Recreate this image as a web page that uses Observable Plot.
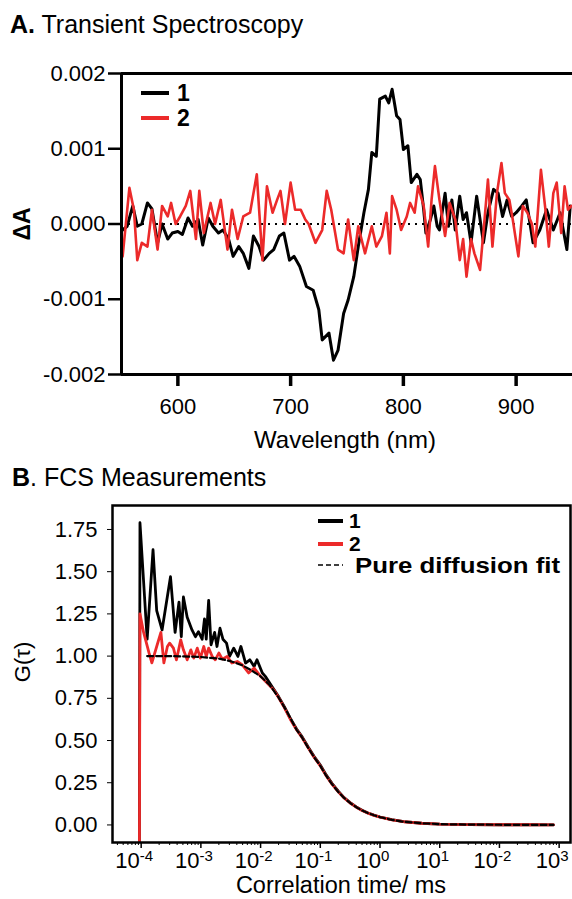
<!DOCTYPE html>
<html><head><meta charset="utf-8">
<script src="https://cdn.jsdelivr.net/npm/d3@7"></script>
<script src="https://cdn.jsdelivr.net/npm/@observablehq/plot@0.6"></script>
<style>
body{margin:0;background:#fff;}
#wrap{position:relative;width:572px;height:899px;overflow:hidden;font-family:"Liberation Sans",Arial,sans-serif;}
#pa{position:absolute;left:0;top:0;}
#pb{position:absolute;left:0;top:450px;}
#ov{position:absolute;left:0;top:0;pointer-events:none;}
</style></head>
<body><div id="wrap"><div id="pa"></div><div id="pb"></div>
<svg id="ov" width="572" height="899" font-family="Liberation Sans, Arial, sans-serif">
  <text x="10" y="33" font-size="25"><tspan font-weight="bold">A.</tspan> Transient Spectroscopy</text>
  <text x="12" y="486" font-size="25"><tspan font-weight="bold">B</tspan>. FCS Measurements</text>
  <text transform="translate(30,224) rotate(-90)" text-anchor="middle" font-size="23" font-weight="bold">ΔA</text>
  <text x="345" y="448" text-anchor="middle" font-size="24">Wavelength (nm)</text>
  <text transform="translate(30,662) rotate(-90)" text-anchor="middle" font-size="22">G(τ)</text>
  <text x="341" y="893" text-anchor="middle" font-size="23.5">Correlation time/ ms</text>
  <line x1="141" x2="169" y1="93" y2="93" stroke="#000" stroke-width="4"/>
  <text x="177" y="101" font-size="23" font-weight="bold">1</text>
  <line x1="141" x2="169" y1="118" y2="118" stroke="#ec2a2a" stroke-width="4"/>
  <text x="177" y="126" font-size="23" font-weight="bold">2</text>
  <line x1="318" x2="343" y1="521" y2="521" stroke="#000" stroke-width="4"/>
  <text x="349" y="528" font-size="21" font-weight="bold">1</text>
  <line x1="318" x2="343" y1="544" y2="544" stroke="#ec2a2a" stroke-width="4"/>
  <text x="349" y="551" font-size="21" font-weight="bold">2</text>
  <line x1="318" x2="343" y1="565" y2="565" stroke="#000" stroke-width="1.5" stroke-dasharray="5,3"/>
  <text x="355" y="573" font-size="21.5" font-weight="bold" textLength="205" lengthAdjust="spacingAndGlyphs">Pure diffusion fit</text>
</svg>
</div>
<script>
// ---------- Panel A: transient spectroscopy ----------
const wl1 = [551,555,560,564,568,573,577,582,586,591,595,600,604,609,613,618,622,627,631,636,640,645,649,654,658,663,667,672,676,681,685,690,694,699,703,708,714,720,725,728,734,738,742,747,751,756,760,765,769,772,776,779,784,787,790,794,797,800,804,807,812,815,818,820,824,827,830,832,837,840,843,846,850,853,856,860,865,871,875,880,884,888,892,896,900,905,909,915,921,927,933,939,945,948];
const dA1 = [-0.00008,-0.00003,0.00024,-0.00003,0,0.00028,0.0002,-0.00025,0,-0.0002,-0.00012,-0.0001,-0.00014,0.00008,-0.00003,0.00006,-0.00028,0.00008,-0.00003,-0.00012,-0.00008,-0.0002,-0.00043,-0.0003,-0.00039,-0.00059,-0.00016,-0.0003,-0.00048,-0.00039,-0.00034,-0.00016,-0.00012,-0.00048,-0.00043,-0.00056,-0.00083,-0.00088,-0.00114,-0.00154,-0.00145,-0.00181,-0.00168,-0.00119,-0.00101,-0.0007,-0.0003,0.00015,0.00046,0.00095,0.0009,0.00166,0.0017,0.00161,0.00179,0.00144,0.00139,0.00099,0.00104,0.00055,0.00066,0.00059,0.00019,-0.00012,0.00006,0.00024,-0.00003,-0.00008,0.00041,-0.00003,0.00032,-0.00008,0.00037,0.00006,0.00015,-0.00025,0.00037,-0.00025,0.00015,0.00046,0.00041,0.0001,0.00032,0.0001,0.00015,0.00024,0.00032,-0.00025,-0.00008,0.00019,-0.00008,0.00015,-0.00034,0.00024];
const wl2 = [551,557,561,564,568,573,577,582,586,591,594,598,602,607,611,616,619,623,629,633,638,644,648,653,658,664,670,675,679,684,688,691,695,700,704,709,713,716,722,728,732,736,742,747,751,756,760,766,772,776,781,785,788,790,794,798,803,806,810,813,818,822,825,828,832,837,841,846,850,853,856,860,863,868,872,875,879,883,887,890,894,897,902,906,910,914,917,922,926,929,933,936,940,943,946,949];
const dA2 = [-0.00043,0.00048,0.00019,-0.00048,-0.00025,-0.0003,0.00019,-0.00034,0.00024,0.0001,0.00028,0,0.0001,0.00024,0.00044,-0.0002,0.00044,-0.00012,0.00028,0,0.00032,-0.00034,0.00019,-0.0002,0.0001,0.00015,0.00066,-0.00048,0.0005,0.00015,0.00032,0.00044,0,0.00055,0.00019,0.00019,0.00006,0,-0.00025,-0.00008,0.00044,0.00019,-0.00034,-0.00039,0.00006,-0.00048,-0.00003,-0.00039,-0.00003,-0.0003,-0.00016,0.00015,-0.00039,0.00037,0.00019,-0.00008,0.0001,0.00028,0.00015,0.0005,0.00024,-0.0003,0.00032,0.00077,0.00032,-0.00016,0.00028,0.00006,-0.00048,-0.0002,-0.0007,-0.0002,-0.00039,-0.00061,0.00006,0.00059,-0.0003,0.00041,0.00081,0.00041,0.00032,0.00006,-0.00043,0.00024,0.00015,0,-0.0003,0.00072,0.00019,-0.0003,0.00041,0.00055,-0.00012,0.0005,0.00019,0.00024];
const wlTicks = [600, 700, 800, 900];
const dATicks = [-0.002, -0.001, 0, 0.001, 0.002];

// ---------- Panel B: FCS ----------
const tau1 = [9.3e-5,9.55e-5,1.26e-4,1.58e-4,1.82e-4,2.24e-4,3.1e-4,3.7e-4,4.3e-4,4.7e-4,5.1e-4,5.9e-4,7.1e-4,8.1e-4,9.1e-4,1.05e-3,1.15e-3,1.23e-3,1.35e-3,1.48e-3,1.7e-3,1.86e-3,2.09e-3,2.34e-3,2.69e-3,3.02e-3,3.55e-3,4.17e-3,4.68e-3,5.6e-3,6.6e-3,7.8e-3,8.7e-3,1.07e-2,1.2e-2,1.55e-2,2.0e-2,2.5e-2,3.16e-2,3.98e-2,5.0e-2,6.3e-2,7.9e-2,0.1,0.126,0.158,0.2,0.25,0.316,0.4,0.5,0.63,0.79,1,1.58,2.5,5,10,31.6,100,316,800];
const g1 = [-0.5,1.79,1.10,1.63,1.27,1.155,1.47,1.14,1.32,1.115,1.35,1.23,1.155,1.115,1.145,1.10,1.22,1.10,1.33,1.067,1.14,1.057,1.165,1.10,1.077,0.998,1.047,0.998,1.057,0.959,0.978,0.939,0.978,0.90,0.88,0.82,0.76,0.70,0.63,0.57,0.52,0.46,0.405,0.355,0.295,0.245,0.2,0.162,0.132,0.107,0.087,0.071,0.058,0.047,0.031,0.02,0.01,0.005,0.002,0.001,0.001,0.0];
const tau2 = [9.3e-5,9.55e-5,1.1e-4,1.35e-4,1.51e-4,1.82e-4,2.14e-4,2.4e-4,2.75e-4,3.0e-4,3.47e-4,3.9e-4,4.6e-4,5.1e-4,5.9e-4,6.8e-4,7.6e-4,8.7e-4,9.8e-4,1.12e-3,1.23e-3,1.35e-3,1.55e-3,1.74e-3,2.0e-3,2.29e-3,2.75e-3,3.3e-3,4.07e-3,4.9e-3,6.3e-3,7.8e-3,1.0e-2,1.29e-2,1.66e-2,2.0e-2,2.5e-2,3.16e-2,3.98e-2,5.0e-2,6.3e-2,7.9e-2,0.1,0.126,0.158,0.2,0.25,0.316,0.4,0.5,0.63,0.79,1,1.58,2.5,5,10,31.6,100,316,800];
const g2 = [-0.5,1.25,1.14,1.02,0.96,1.057,1.14,0.96,1.057,1.077,1.047,0.978,1.096,1.037,0.978,1.037,0.988,1.047,0.988,1.057,0.998,1.047,0.998,0.978,1.018,0.982,0.998,0.959,0.968,0.949,0.90,0.929,0.88,0.84,0.80,0.755,0.695,0.625,0.565,0.515,0.455,0.4,0.35,0.29,0.24,0.196,0.16,0.13,0.105,0.086,0.07,0.057,0.046,0.03,0.019,0.01,0.005,0.002,0.001,0.001,0.0];
const tauFit = [1.26e-4,3.16e-4,1e-3,2e-3,3.16e-3,5e-3,7.08e-3,1e-2,1.41e-2,2e-2,2.82e-2,3.98e-2,5.0e-2,6.3e-2,7.9e-2,0.1,0.126,0.158,0.2,0.25,0.316,0.4,0.5,0.63,0.79,1,1.58,2.5,5,10,31.6,100,316,800];
const gFit = [1.0,1.0,0.995,0.985,0.97,0.945,0.915,0.88,0.83,0.755,0.665,0.565,0.515,0.455,0.4,0.35,0.29,0.24,0.195,0.16,0.13,0.105,0.086,0.07,0.057,0.046,0.03,0.019,0.01,0.005,0.002,0.001,0.0005,0.0];
const gTicks = [0, 0.25, 0.5, 0.75, 1.0, 1.25, 1.5, 1.75];
const tauTicks = [1e-4, 1e-3, 1e-2, 1e-1, 1e0, 1e1, 1e2, 1e3];
const tauTickLabels = ["10-4", "10-3", "10-2", "10-1", "100", "101", "10-2", "103"];

const RED = "#ec2a2a";
const FONT = '"Liberation Sans", Arial, sans-serif';

const sA1 = wl1.map((x, i) => ({x, y: dA1[i]}));
const sA2 = wl2.map((x, i) => ({x, y: dA2[i]}));
const sB1 = tau1.map((x, i) => ({x, y: g1[i]}));
const sB2 = tau2.map((x, i) => ({x, y: g2[i]}));
const sBF = tauFit.map((x, i) => ({x, y: gFit[i]}));

const plotA = Plot.plot({
  width: 572, height: 450,
  marginTop: 73, marginBottom: 76, marginLeft: 121, marginRight: 0,
  style: {fontFamily: FONT, fontSize: "22px", color: "#000", background: "transparent", overflow: "visible"},
  x: {domain: [550, 950], label: null},
  y: {domain: [-0.002, 0.002], label: null},
  marks: [
    Plot.ruleY([0], {stroke: "#000", strokeWidth: 2, strokeDasharray: "2,5"}),
    Plot.line(sA1, {x: "x", y: "y", stroke: "#000", strokeWidth: 3, strokeLinejoin: "round"}),
    Plot.line(sA2, {x: "x", y: "y", stroke: RED, strokeWidth: 2.6, strokeLinejoin: "round"}),
    Plot.ruleY([-0.002, 0.002], {stroke: "#000", strokeWidth: 3}),
    Plot.ruleX([550], {stroke: "#000", strokeWidth: 3}),
    Plot.axisY(dATicks, {tickSize: 13, tickPadding: 3, strokeWidth: 2.5, fontSize: 22, tickFormat: d => d.toFixed(3)}),
    Plot.axisX(wlTicks, {tickSize: 12, tickPadding: 12, strokeWidth: 3.5, fontSize: 22, tickFormat: d => String(d)})
  ]
});
document.getElementById("pa").appendChild(plotA);

const minorTicks = [];
for (let k = -5; k <= 3; k++) for (let m = 2; m <= 9; m++) minorTicks.push(m * Math.pow(10, k));
const labelOf = new Map(tauTicks.map((t, i) => [t, tauTickLabels[i]]));

const plotB = Plot.plot({
  width: 572, height: 449,
  marginTop: 55, marginBottom: 57, marginLeft: 112, marginRight: 2,
  style: {fontFamily: FONT, fontSize: "22px", color: "#000", background: "transparent", overflow: "visible"},
  x: {type: "log", domain: [Math.pow(10, -4.48), Math.pow(10, 3.19)], label: null},
  y: {domain: [-0.104, 1.892], label: null},
  marks: [
    Plot.line(sB1, {x: "x", y: "y", stroke: "#000", strokeWidth: 2.8, strokeLinejoin: "round", clip: true}),
    Plot.line(sB2, {x: "x", y: "y", stroke: RED, strokeWidth: 2.8, strokeLinejoin: "round", clip: true}),
    Plot.line(sBF, {x: "x", y: "y", stroke: "#000", strokeWidth: 2.2, strokeDasharray: "6,3"}),
    Plot.frame({stroke: "#000", strokeWidth: 2.5}),
    Plot.axisY(gTicks, {tickSize: 5, tickPadding: 10, strokeWidth: 1, fontSize: 22, tickFormat: d => d.toFixed(2)}),
    Plot.axisX(minorTicks.filter(t => t > 3.3e-5 && t < 1500), {tickSize: 3, strokeWidth: 1, tickFormat: () => ""}),
    Plot.axisX(tauTicks, {tickSize: 6, tickPadding: 4, strokeWidth: 1.5, fontSize: 22, tickFormat: d => labelOf.get(d)})
  ]
});
document.getElementById("pb").appendChild(plotB);

// turn "10-4" style labels into base + superscript exponent
const NS = "http://www.w3.org/2000/svg";
plotB.querySelectorAll('g[aria-label="x-axis tick label"] text').forEach(t => {
  const s = t.textContent;
  if (!s) return;
  t.textContent = "";
  const base = document.createElementNS(NS, "tspan");
  base.textContent = s.slice(0, 2);
  base.setAttribute("dx", "-7");
  const sup = document.createElementNS(NS, "tspan");
  sup.textContent = s.slice(2);
  sup.setAttribute("dy", "-0.45em");
  sup.setAttribute("font-size", "15");
  t.appendChild(base);
  t.appendChild(sup);
});
</script>
</body></html>
